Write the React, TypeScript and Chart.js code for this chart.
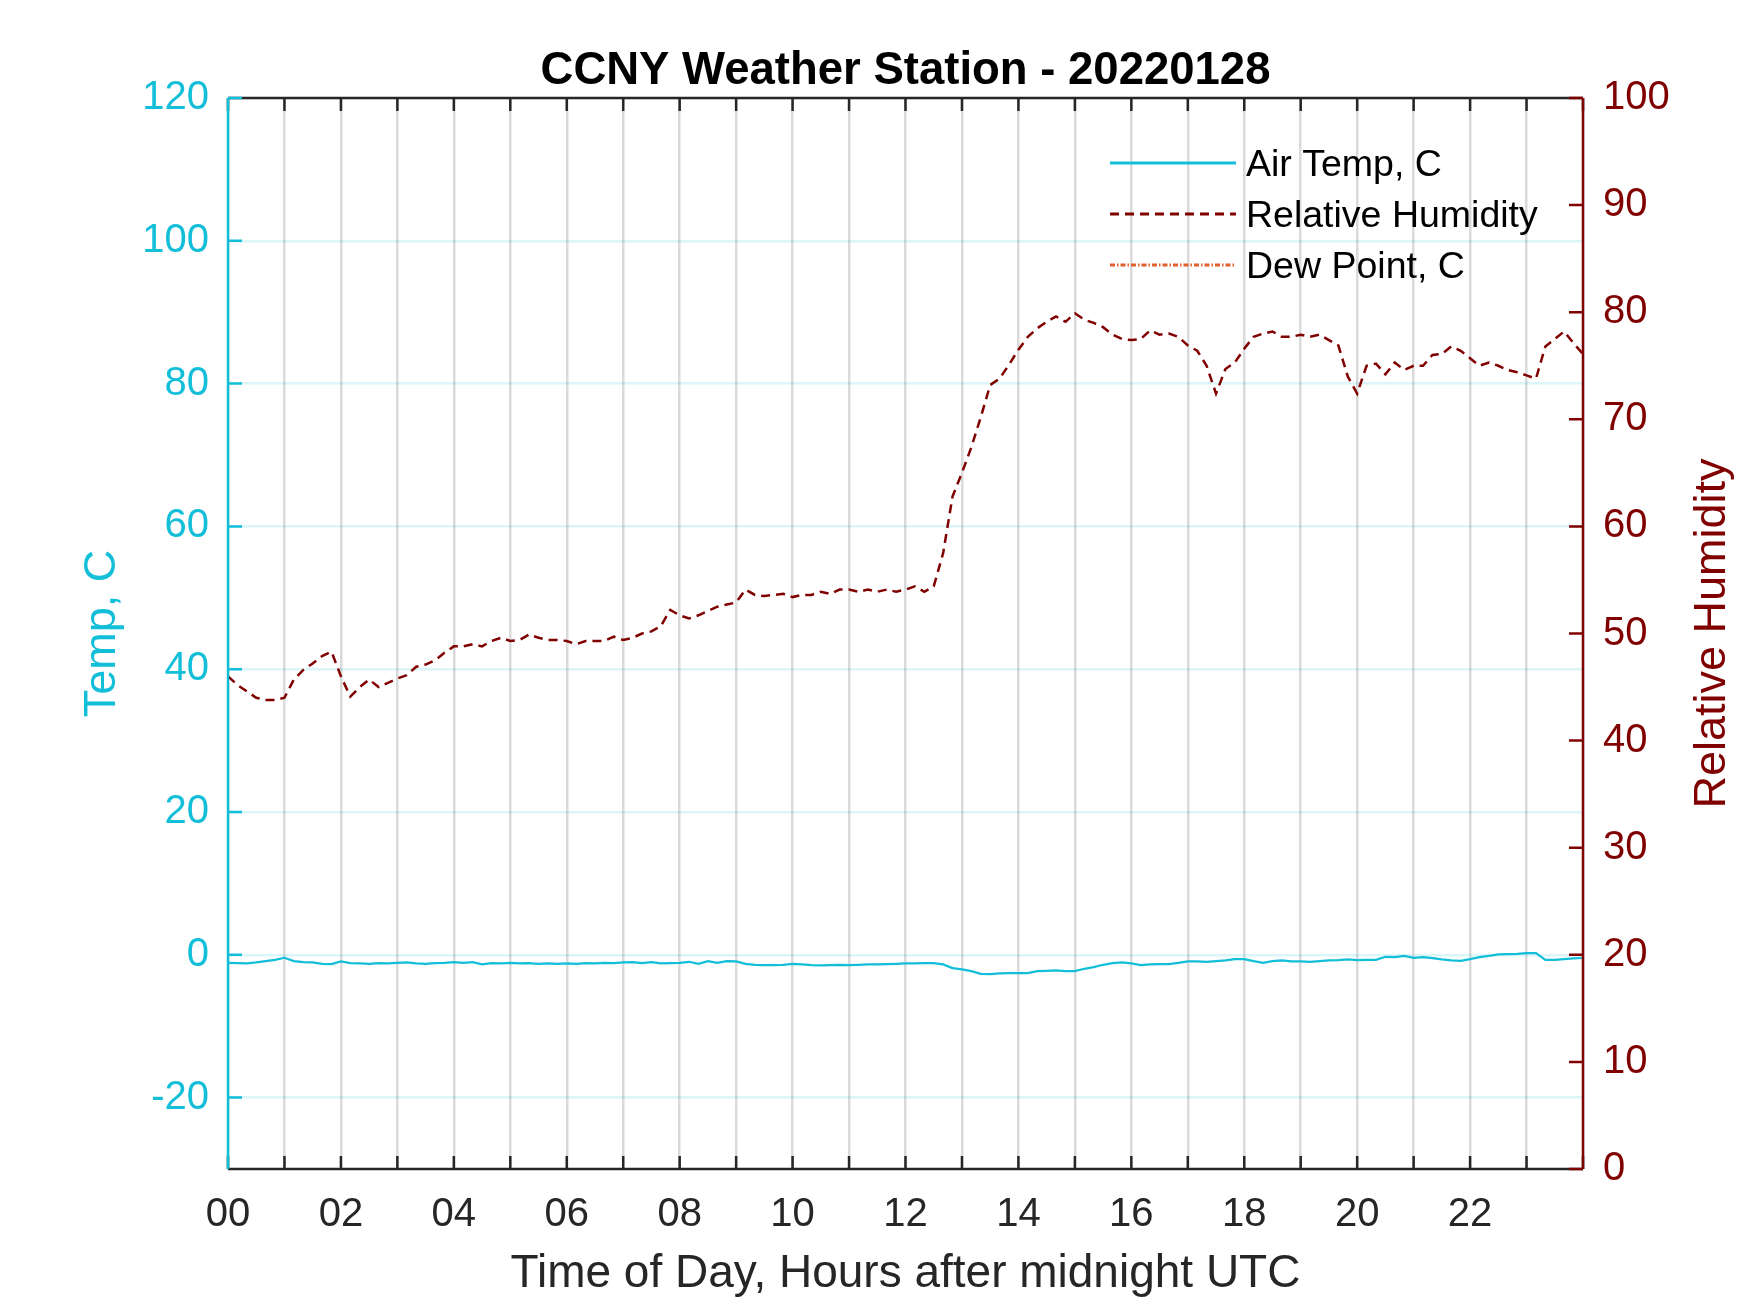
import React, { useEffect, useRef } from 'react';
import { Chart, registerables } from 'chart.js';

Chart.register(...registerables);

// ---------- text ----------
const TITLE = 'CCNY Weather Station - 20220128';
const X_TITLE = 'Time of Day, Hours after midnight UTC';
const LEFT_TITLE = 'Temp, C';
const RIGHT_TITLE = 'Relative Humidity';
const SERIES_NAMES = ['Air Temp, C', 'Relative Humidity', 'Dew Point, C'];
const xTickLabels = ['00', '02', '04', '06', '08', '10', '12', '14', '16', '18', '20', '22'];

// ---------- data (10-minute samples from 00:00 UTC) ----------
const SAMPLE_MINUTES = 10;

const airTemp: number[] = [
  -1.12, -1.17, -1.21, -1.07, -0.89, -0.70,
  -0.42, -0.89, -1.03, -1.07, -1.26, -1.31,
  -0.93, -1.17, -1.21, -1.26, -1.17, -1.21,
  -1.12, -1.07, -1.21, -1.26, -1.17, -1.12,
  -1.03, -1.12, -1.03, -1.35, -1.17, -1.21,
  -1.12, -1.21, -1.17, -1.26, -1.21, -1.26,
  -1.21, -1.26, -1.17, -1.21, -1.12, -1.17,
  -1.07, -1.03, -1.17, -1.03, -1.21, -1.17,
  -1.12, -0.98, -1.26, -0.89, -1.12, -0.89,
  -0.93, -1.26, -1.40, -1.45, -1.45, -1.40,
  -1.26, -1.35, -1.45, -1.49, -1.45, -1.40,
  -1.45, -1.40, -1.35, -1.35, -1.31, -1.26,
  -1.21, -1.21, -1.17, -1.17, -1.35, -1.86,
  -2.05, -2.28, -2.66, -2.70, -2.61, -2.56,
  -2.56, -2.56, -2.28, -2.24, -2.19, -2.28,
  -2.28, -1.96, -1.72, -1.40, -1.17, -1.07,
  -1.21, -1.45, -1.35, -1.31, -1.31, -1.12,
  -0.93, -0.93, -0.98, -0.89, -0.79, -0.61,
  -0.61, -0.89, -1.12, -0.89, -0.79, -0.93,
  -0.93, -0.98, -0.89, -0.79, -0.75, -0.65,
  -0.75, -0.70, -0.70, -0.28, -0.33, -0.14,
  -0.42, -0.33, -0.47, -0.65, -0.79, -0.84,
  -0.61, -0.33, -0.14, 0.05, 0.09, 0.14,
  0.23, 0.23, -0.70, -0.70, -0.61, -0.51,
  -0.45,
];

const relHumidity: number[] = [
  46.0, 45.2, 44.6, 44.0, 43.8, 43.8,
  44.0, 45.7, 46.6, 47.2, 47.9, 48.3,
  46.0, 44.1, 45.0, 45.7, 45.0, 45.4,
  45.8, 46.1, 46.9, 47.1, 47.5, 48.2,
  48.8, 48.8, 49.0, 48.8, 49.3, 49.6,
  49.3, 49.4, 49.9, 49.6, 49.4, 49.4,
  49.3, 49.0, 49.3, 49.3, 49.3, 49.7,
  49.4, 49.6, 50.0, 50.2, 50.7, 52.2,
  51.7, 51.4, 51.7, 52.1, 52.5, 52.7,
  52.9, 54.1, 53.6, 53.5, 53.6, 53.7,
  53.4, 53.6, 53.6, 53.9, 53.7, 54.1,
  54.1, 53.9, 54.1, 53.9, 54.1, 53.9,
  54.1, 54.4, 53.9, 54.4, 57.5, 62.8,
  65.0, 67.4, 70.2, 73.2, 73.8, 75.1,
  76.5, 77.7, 78.5, 79.1, 79.6, 79.1,
  79.9, 79.3, 79.0, 78.6, 77.9, 77.5,
  77.4, 77.5, 78.3, 77.9, 78.0, 77.7,
  76.9, 76.4, 75.0, 72.4, 74.7, 75.3,
  76.6, 77.7, 78.0, 78.2, 77.7, 77.7,
  77.9, 77.7, 77.9, 77.4, 76.9, 74.0,
  72.4, 75.0, 75.2, 74.2, 75.3, 74.6,
  75.0, 75.0, 76.0, 76.1, 76.8, 76.4,
  75.7, 75.0, 75.3, 75.0, 74.6, 74.4,
  74.1, 73.8, 76.8, 77.5, 78.2, 77.1,
  76.1,
];

// Dew point: no visible samples in the plotted range
const dewPoint: number[] = [];

// ---------- styling ----------
const FONT = "'Liberation Sans', Arial, Helvetica, sans-serif";
const CYAN = 'rgb(18,190,216)';
const DARK_RED = 'rgb(128,0,0)';
const ORANGE = 'rgb(224,96,48)';
const AXIS_BLACK = '#262626';
const TICK_LEN = 13;

const W = 1750;
const H = 1313;

const toPoints = (vals: number[]) =>
  vals.map((v, i) => ({ x: (i * SAMPLE_MINUTES) / 60, y: v }));

const matlabAxesPlugin = {
  id: 'matlabAxes',
  afterDatasetsDraw(chart: any) {
    const { ctx, chartArea: a, scales } = chart;
    const xs = scales.x;
    const yl = scales.yT;
    const yr = scales.yRH;
    ctx.save();
    ctx.lineCap = 'butt';

    // x axes (bottom + top) with inward ticks
    ctx.strokeStyle = AXIS_BLACK;
    ctx.lineWidth = 2.5;
    ctx.beginPath();
    ctx.moveTo(a.left, a.bottom);
    ctx.lineTo(a.right, a.bottom);
    ctx.moveTo(a.left, a.top);
    ctx.lineTo(a.right, a.top);
    xs.ticks.forEach((t: any) => {
      const px = xs.getPixelForValue(t.value);
      ctx.moveTo(px, a.bottom);
      ctx.lineTo(px, a.bottom - TICK_LEN);
      ctx.moveTo(px, a.top);
      ctx.lineTo(px, a.top + TICK_LEN);
    });
    ctx.stroke();

    // left axis
    ctx.strokeStyle = CYAN;
    ctx.beginPath();
    ctx.moveTo(a.left, a.top);
    ctx.lineTo(a.left, a.bottom);
    yl.ticks.forEach((t: any) => {
      const py = yl.getPixelForValue(t.value);
      ctx.moveTo(a.left, py);
      ctx.lineTo(a.left + TICK_LEN + 1, py);
    });
    ctx.stroke();

    // right axis
    ctx.strokeStyle = DARK_RED;
    ctx.beginPath();
    ctx.moveTo(a.right, a.top);
    ctx.lineTo(a.right, a.bottom);
    yr.ticks.forEach((t: any) => {
      const py = yr.getPixelForValue(t.value);
      ctx.moveTo(a.right, py);
      ctx.lineTo(a.right - TICK_LEN - 1, py);
    });
    ctx.stroke();

    // right axis title (reads bottom-to-top)
    ctx.save();
    ctx.translate(1713, (a.top + a.bottom) / 2);
    ctx.rotate(-Math.PI / 2);
    ctx.fillStyle = DARK_RED;
    ctx.font = `45px ${FONT}`;
    ctx.textAlign = 'center';
    ctx.textBaseline = 'middle';
    ctx.fillText(RIGHT_TITLE, 0, 0);
    ctx.restore();

    // legend (inside plot, top-right, transparent)
    const lx0 = 1110;
    const lx1 = 1236;
    const tx = 1246;
    const rows = [163, 214, 265];
    chart.data.datasets.forEach((ds: any, i: number) => {
      const y = rows[i];
      ctx.save();
      ctx.strokeStyle = ds.borderColor;
      ctx.lineWidth = 3;
      ctx.setLineDash(ds.legendDash || []);
      ctx.beginPath();
      ctx.moveTo(lx0, y);
      ctx.lineTo(lx1, y);
      ctx.stroke();
      ctx.restore();
      ctx.fillStyle = '#000000';
      ctx.font = `37.5px ${FONT}`;
      ctx.textAlign = 'left';
      ctx.textBaseline = 'middle';
      ctx.fillText(ds.label, tx, y + 3);
    });

    ctx.restore();
  },
};

export default function App() {
  const canvasRef = useRef<HTMLCanvasElement | null>(null);

  useEffect(() => {
    document.body.style.margin = '0';
    const canvas = canvasRef.current;
    if (!canvas) return;

    const chart = new Chart(canvas, {
      type: 'line',
      data: {
        datasets: [
          {
            label: SERIES_NAMES[0],
            data: toPoints(airTemp),
            yAxisID: 'yT',
            borderColor: CYAN,
            borderWidth: 2.2,
            pointRadius: 0,
            tension: 0,
            legendDash: [],
          } as any,
          {
            label: SERIES_NAMES[1],
            data: toPoints(relHumidity),
            yAxisID: 'yRH',
            borderColor: DARK_RED,
            borderWidth: 2.5,
            borderDash: [9, 6],
            pointRadius: 0,
            tension: 0,
            legendDash: [9, 6],
          } as any,
          {
            label: SERIES_NAMES[2],
            data: toPoints(dewPoint),
            yAxisID: 'yT',
            borderColor: ORANGE,
            borderWidth: 2.5,
            borderDash: [5, 2, 1.5, 2],
            pointRadius: 0,
            tension: 0,
            legendDash: [5, 2, 1.5, 2],
          } as any,
        ],
      },
      options: {
        animation: false,
        responsive: false,
        devicePixelRatio: 1,
        layout: { padding: 0 },
        plugins: {
          legend: { display: false },
          tooltip: { enabled: false },
          title: {
            display: true,
            text: TITLE,
            fullSize: false,
            color: '#000000',
            font: { family: FONT, size: 45.5, weight: 'bold', lineHeight: '54px' },
            padding: { top: 44, bottom: 0 },
          },
        },
        scales: {
          x: {
            type: 'linear',
            min: 0,
            max: 24,
            position: 'bottom',
            afterFit: (s: any) => {
              s.height = 144;
            },
            border: { display: false },
            grid: {
              color: 'rgb(218,218,218)',
              lineWidth: 2.5,
              drawTicks: false,
            },
            ticks: {
              stepSize: 1,
              maxTicksLimit: 100,
              autoSkip: false,
              maxRotation: 0,
              padding: 22,
              color: AXIS_BLACK,
              font: { family: FONT, size: 40 },
              callback: (v: any) => {
                const n = Number(v);
                return n % 2 === 0 && n / 2 < xTickLabels.length ? xTickLabels[n / 2] : '';
              },
            },
            title: {
              display: true,
              text: X_TITLE,
              color: AXIS_BLACK,
              font: { family: FONT, size: 46, lineHeight: 1.2 },
              padding: { top: 0, bottom: 11 },
            },
          },
          yT: {
            type: 'linear',
            position: 'left',
            min: -30,
            max: 120,
            afterFit: (s: any) => {
              s.width = 228;
            },
            border: { display: false },
            grid: {
              color: 'rgba(18,190,216,0.15)',
              lineWidth: 2.5,
              drawTicks: false,
            },
            ticks: {
              stepSize: 20,
              includeBounds: false,
              padding: 19,
              color: CYAN,
              font: { family: FONT, size: 40 },
            },
            title: {
              display: true,
              text: LEFT_TITLE,
              color: CYAN,
              font: { family: FONT, size: 45, lineHeight: 1.2 },
              padding: { top: 76, bottom: 0 },
            },
          },
          yRH: {
            type: 'linear',
            position: 'right',
            min: 0,
            max: 100,
            afterFit: (s: any) => {
              s.width = W - 1583;
            },
            border: { display: false },
            grid: { display: false, drawTicks: false },
            ticks: {
              stepSize: 10,
              padding: 20,
              color: DARK_RED,
              font: { family: FONT, size: 40 },
            },
          },
        },
      } as any,
      plugins: [matlabAxesPlugin],
    });

    return () => {
      chart.destroy();
    };
  }, []);

  return (
    <div style={{ width: W, height: H, background: '#ffffff' }}>
      <canvas
        ref={canvasRef}
        width={W}
        height={H}
        style={{ display: 'block', width: W, height: H }}
      />
    </div>
  );
}
